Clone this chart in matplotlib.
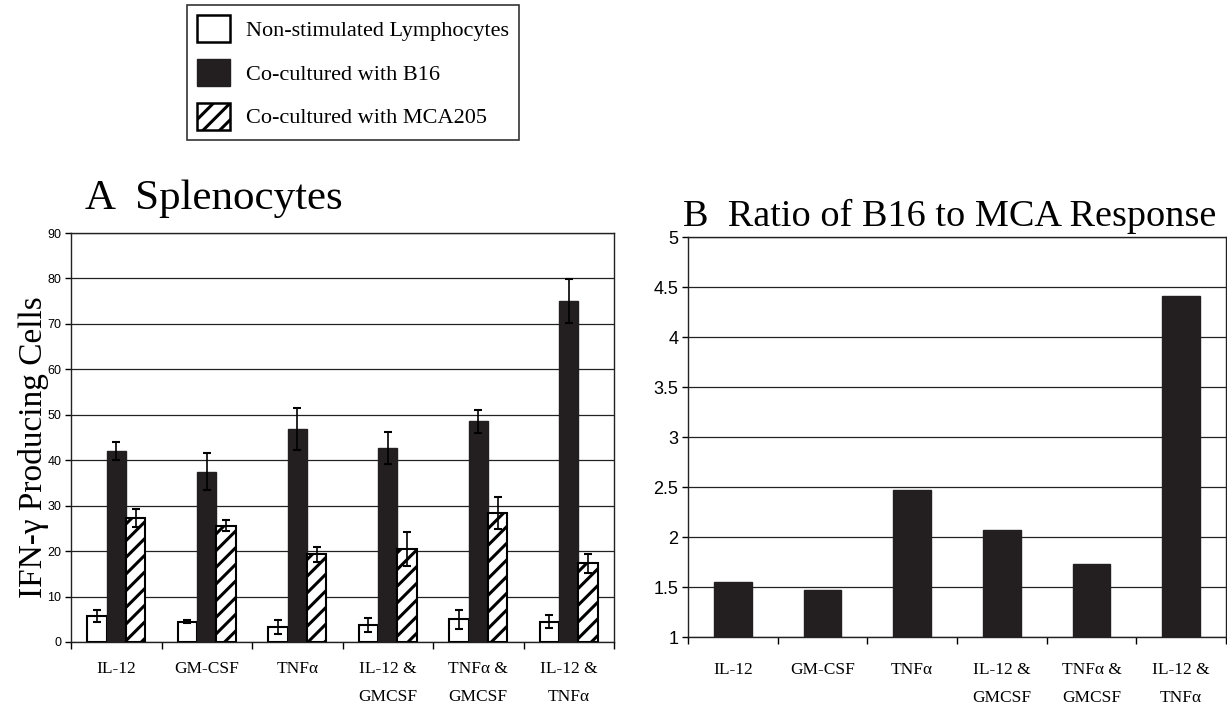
import matplotlib
matplotlib.use("Agg")
import matplotlib.pyplot as plt
import numpy as np
from matplotlib.patches import Patch

plt.rcParams['hatch.linewidth'] = 2.2

categories = ["IL-12", "GM-CSF", "TNF\u03b1", "IL-12 &\nGMCSF", "TNF\u03b1 &\nGMCSF", "IL-12 &\nTNF\u03b1"]
series_names = ["Non-stimulated Lymphocytes", "Co-cultured with B16", "Co-cultured with MCA205"]

nonstim = [5.7, 4.5, 3.3, 3.7, 5.0, 4.5]
nonstim_err = [1.4, 0.4, 1.6, 1.6, 2.1, 1.5]
b16 = [42.0, 37.5, 46.8, 42.7, 48.6, 75.1]
b16_err = [1.9, 4.0, 4.6, 3.6, 2.5, 4.8]
mca = [27.2, 25.6, 19.3, 20.5, 28.4, 17.3]
mca_err = [2.0, 1.2, 1.7, 3.7, 3.5, 2.1]

ratio = [1.55, 1.47, 2.47, 2.07, 1.73, 4.41]

W, H = 1227, 706
fig = plt.figure(figsize=(W / 100, H / 100), dpi=100)

serif = ['Liberation Serif', 'DejaVu Serif']
narrow = ['Liberation Sans Narrow', 'Liberation Sans', 'DejaVu Sans']

def ax_rect(l, r, t, b):
    return [l / W, (H - b) / H, (r - l) / W, (b - t) / H]

axA = fig.add_axes(ax_rect(71, 614, 233, 642))
axB = fig.add_axes(ax_rect(688, 1226, 237, 637))

x = np.arange(len(categories))
bw = 0.215
ekw = dict(ecolor='black', capsize=3, elinewidth=1.2, capthick=1.5)
axA.bar(x - bw, nonstim, bw, yerr=nonstim_err, color='white', edgecolor='black', linewidth=1.5,
        error_kw=ekw, zorder=3, label=series_names[0])
axA.bar(x, b16, bw, yerr=b16_err, color='#231f20', edgecolor='#231f20', linewidth=1.0,
        error_kw=ekw, zorder=3, label=series_names[1])
axA.bar(x + bw, mca, bw, yerr=mca_err, color='white', edgecolor='black', hatch='//', linewidth=1.5,
        error_kw=ekw, zorder=3, label=series_names[2])

axA.set_xlim(-0.5, len(categories) - 0.5)
axA.set_ylim(0, 90)
axA.set_yticks(np.arange(0, 91, 10))
axA.yaxis.grid(True, color='#222222', linewidth=0.9, zorder=0)
axA.set_axisbelow(True)

axB.bar(x, ratio, 0.42, color='#231f20', edgecolor='#231f20', zorder=3)
axB.set_xlim(-0.5, len(categories) - 0.5)
axB.set_ylim(1, 5)
axB.set_yticks([1, 1.5, 2, 2.5, 3, 3.5, 4, 4.5, 5])
axB.set_yticklabels(['1', '1.5', '2', '2.5', '3', '3.5', '4', '4.5', '5'])
axB.yaxis.grid(True, color='#222222', linewidth=0.9, zorder=0)
axB.set_axisbelow(True)

for ax, ysize, pad in ((axA, 9, 14), (axB, 13, 18)):
    ax.set_xticks(np.arange(len(categories) + 1) - 0.5)
    ax.set_xticklabels([])
    ax.set_xticks(x, minor=True)
    ax.set_xticklabels(categories, minor=True, family=serif, fontsize=12.5, linespacing=2.0)
    ax.tick_params(axis='x', which='major', length=5, direction='out', width=1)
    ax.tick_params(axis='x', which='minor', length=0, pad=pad)
    ax.tick_params(axis='y', length=4, direction='out', width=1, pad=3)
    for lab in ax.get_yticklabels():
        lab.set_family(narrow)
        lab.set_fontsize(ysize)
    for s in ax.spines.values():
        s.set_linewidth(1.0)
        s.set_color('#222222')

fig.text(34 / W, (H - 447) / H, "IFN-\u03b3 Producing Cells", family=serif, fontsize=24,
         rotation=90, ha='center', va='center')

fig.text(85 / W, (H - 209) / H, "A  Splenocytes", family=serif, fontsize=31, va='baseline', ha='left')
fig.text(683 / W, (H - 226) / H, "B  Ratio of B16 to MCA Response", family=serif, fontsize=27.5, va='baseline', ha='left')

handles = [Patch(facecolor='white', edgecolor='black', linewidth=1.8),
           Patch(facecolor='#231f20', edgecolor='#231f20'),
           Patch(facecolor='white', edgecolor='black', hatch='//', linewidth=1.8)]
leg = fig.legend(handles, series_names, loc='upper left', bbox_to_anchor=(187 / W, 1 - 5 / H),
                 prop={'family': serif, 'size': 16}, frameon=True, fancybox=False,
                 edgecolor='black', handlelength=1.5, handleheight=1.5, labelspacing=0.75,
                 handletextpad=0.7, borderpad=0.45, borderaxespad=0)
leg.get_frame().set_linewidth(1.2)

fig.savefig("out.png", dpi=100)
